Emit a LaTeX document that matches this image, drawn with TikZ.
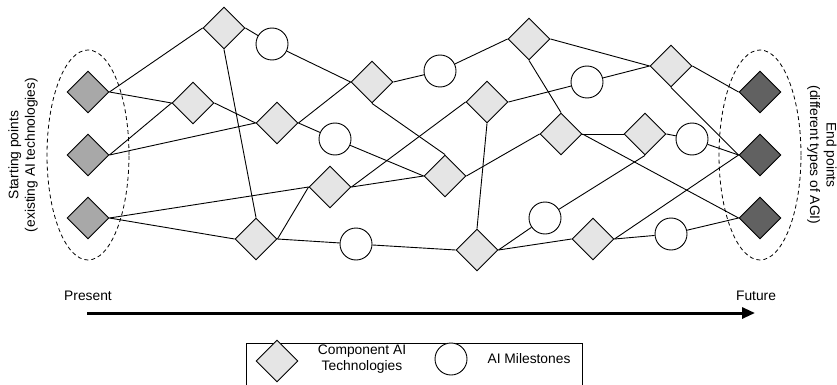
\documentclass[tikz,border=0pt]{standalone}
\usepackage{fontspec}
\setmainfont{Liberation Sans}
\usetikzlibrary{shapes.geometric,arrows.meta}
\begin{document}
\begin{tikzpicture}[x=1pt,y=-1pt,line width=0.9pt,
  tech/.style={diamond,draw,fill=black!10,aspect=1,minimum width=42pt,minimum height=42pt,inner sep=0pt},
  startnode/.style={tech,fill=black!34},
  endnode/.style={tech,fill=black!62},
  mile/.style={circle,draw,fill=white,minimum size=32pt,inner sep=0pt},
  every node/.append style={font=\fontsize{13.8}{16.5}\selectfont}]
  \useasboundingbox (0,0) rectangle (837,385);
  \clip (0,0) rectangle (837,385);
  \node[startnode] (sone) at (88,92) {};
  \node[startnode] (stwo) at (88,155) {};
  \node[startnode] (sthree) at (88,218) {};
  \node[endnode] (eone) at (760,92) {};
  \node[endnode] (etwo) at (760,155) {};
  \node[endnode] (ethree) at (760,218) {};
  \node[tech] (tone) at (224,28) {};
  \node[tech] (ttwo) at (193,103) {};
  \node[tech] (tthree) at (277,123) {};
  \node[tech] (tfour) at (330,187) {};
  \node[tech] (tfive) at (256,239) {};
  \node[tech] (tsix) at (372,82) {};
  \node[tech] (tseven) at (445,176) {};
  \node[tech] (teight) at (487,102) {};
  \node[tech] (tnine) at (529,39) {};
  \node[tech] (tten) at (561,134) {};
  \node[tech] (televen) at (477,250) {};
  \node[tech] (ttwelve) at (593,239) {};
  \node[tech] (tthirteen) at (645,134) {};
  \node[tech] (tfourteen) at (671,66) {};
  \node[mile] (mone) at (272,44) {};
  \node[mile] (mtwo) at (335,139) {};
  \node[mile] (mthree) at (356,244) {};
  \node[mile] (mfour) at (440,71) {};
  \node[mile] (mfive) at (587,82) {};
  \node[mile] (msix) at (545,218) {};
  \node[mile] (mseven) at (692,139) {};
  \node[mile] (meight) at (671,234) {};
  \draw (sone.east) -- (tone.west);
  \draw (sone.east) -- (ttwo.west);
  \draw (stwo.east) -- (ttwo.west);
  \draw (stwo.east) -- (tthree.west);
  \draw (sthree.east) -- (tfour.west);
  \draw (sthree.east) -- (tfive.west);
  \draw (tone.east) -- (mone);
  \draw (tone.south) -- (tfive.north);
  \draw (mone) -- (tsix.west);
  \draw (ttwo.east) -- (tthree.west);
  \draw (tthree.east) -- (mtwo);
  \draw (tthree.east) -- (tsix.west);
  \draw (mtwo) -- (tseven.west);
  \draw (tfive.east) -- (tfour.west);
  \draw (tfive.east) -- (mthree);
  \draw (tfour.east) -- (teight.west);
  \draw (tfour.east) -- (tseven.west);
  \draw (tsix.south) -- (tseven.north);
  \draw (tsix.east) -- (mfour);
  \draw (mfour) -- (tnine.west);
  \draw (teight.east) -- (mfive);
  \draw (teight.south) -- (televen.north);
  \draw (tseven.east) -- (tten.west);
  \draw (tnine.east) -- (tfourteen.west);
  \draw (tnine.south) -- (tten.north);
  \draw (mfive) -- (tfourteen.west);
  \draw (tten.east) -- (tthirteen.west);
  \draw (tten.east) -- (ethree.west);
  \draw (tthirteen.east) -- (mseven);
  \draw (mseven) -- (etwo.west);
  \draw (tthirteen.south) -- (msix);
  \draw (televen.east) -- (msix);
  \draw (televen.east) -- (ttwelve.west);
  \draw (mthree) -- (televen.west);
  \draw (ttwelve.east) -- (etwo.west);
  \draw (ttwelve.east) -- (meight);
  \draw (meight) -- (ethree.west);
  \draw (tfourteen.east) -- (eone.west);
  \draw (tfourteen.south) -- (etwo.west);
  \draw[line width=0.8pt,dash pattern=on 4pt off 3pt] (stwo) ellipse [x radius=41pt,y radius=105pt];
  \draw[line width=0.8pt,dash pattern=on 4pt off 3pt] (etwo) ellipse [x radius=41pt,y radius=105pt];
  \node[rotate=90,align=center] (startlabel) at (23,155) {Starting points\\(existing AI technologies)};
  \node[rotate=-90,align=center] (endlabel) at (822,155) {End points\\(different types of AGI)};
  \node (present) at (88,296) {Present};
  \node (future) at (756,296) {Future};
  \coordinate (now) at (87,313);
  \coordinate (later) at (755,313);
  \draw[line width=3pt,-{Triangle[length=13pt,width=11pt]}] (now) -- (later);
  \draw (246,343) rectangle (582,400);
  \node[tech] (keytech) at (277,361) {};
  \node[align=center] (keytechtext) at (362,359) {Component AI\\Technologies};
  \node[mile] (keymile) at (451,359) {};
  \node (keymiletext) at (529,359) {AI Milestones};
\end{tikzpicture}
\end{document}
